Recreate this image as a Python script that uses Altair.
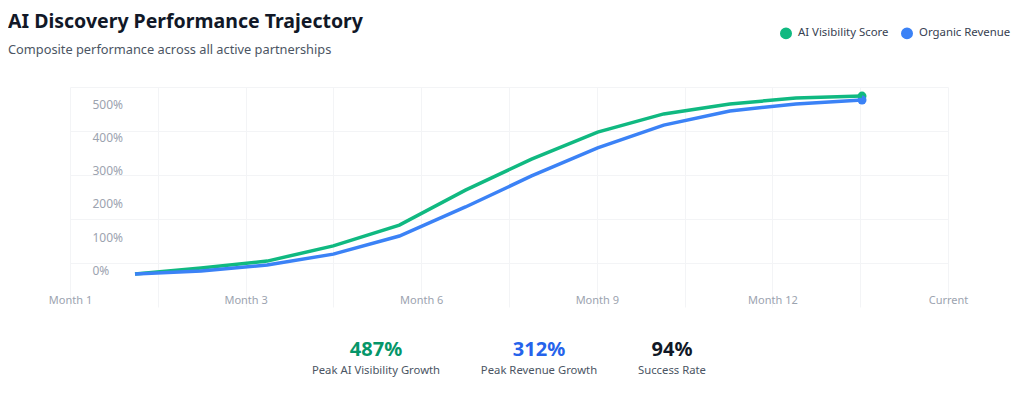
import altair as alt
import pandas as pd

# ---- data ----
months = [1, 2, 3, 4, 5, 6, 7, 8, 9, 10, 11, 12]
ai_visibility = [-12, 6, 27, 73, 136, 242, 336, 418, 473, 503, 521, 527]
organic_revenue = [-12, -3, 15, 48, 103, 191, 285, 370, 439, 482, 503, 515]
series_names = ["AI Visibility Score", "Organic Revenue"]
series_colors = ["#10b981", "#3b82f6"]

grid_x = [0, 1, 2, 3, 4, 5, 6, 7, 8, 9, 10]
grid_x_labels = {0: "Month 1", 2: "Month 3", 4: "Month 6", 6: "Month 9", 8: "Month 12", 10: "Current"}
y_ticks = [0, 100, 200, 300, 400, 500]

stat_values = ["487%", "312%", "94%"]
stat_labels = ["Peak AI Visibility Growth", "Peak Revenue Growth", "Success Rate"]
stat_colors = ["#059669", "#2563eb", "#111827"]

FONT = "Noto Sans"
W, H = 878, 220

df = pd.DataFrame({
    "month": months * 2,
    "value": ai_visibility + organic_revenue,
    "series": [series_names[0]] * len(months) + [series_names[1]] * len(months),
})

label_expr = "{" + ",".join(f"'{k}':'{v}'" for k, v in grid_x_labels.items()) + "}[datum.value] || ''"

grid_df = pd.DataFrame({"gx": grid_x, "gy": [0] * len(grid_x)})
grid_layer = alt.Chart(grid_df).mark_point(opacity=0).encode(
    x=alt.X("gx:Q", scale=alt.Scale(domain=[0, 10], nice=False, zero=False),
            axis=alt.Axis(orient="bottom", values=grid_x, labelExpr=label_expr, grid=True,
                          gridColor="#f3f4f6", gridWidth=1, domain=False, ticks=False,
                          labelColor="#9ca3af", labelFontSize=11, labelFont=FONT,
                          labelPadding=0, offset=-13, title=None, labelFlush=False,
                          labelOverlap=False)),
    y=alt.Y("gy:Q", scale=alt.Scale(domain=[0, 5], nice=False, zero=False),
            axis=alt.Axis(orient="left", values=[1, 2, 3, 4, 5], grid=True, gridColor="#f3f4f6",
                          gridWidth=1, labels=False, ticks=False, domain=False, title=None)),
)

color_scale = alt.Scale(domain=series_names, range=series_colors)
xs = alt.X("month:Q", scale=alt.Scale(domain=[0.0165, 13.301], nice=False, zero=False), axis=None)
ys = alt.Y("value:Q", scale=alt.Scale(domain=[-112.1, 554.5], nice=False, zero=False),
           axis=alt.Axis(orient="left", values=y_ticks, format=".0f", labelExpr="datum.value + '%'",
                         grid=False, ticks=False, domain=False, labelAlign="left",
                         labelPadding=0, offset=-22, labelColor="#9ca3af", labelFontSize=12,
                         labelFont=FONT, title=None))

legend = alt.Legend(title=None, orient="none", legendX=710, legendY=-60, direction="horizontal",
                    symbolType="circle", symbolSize=110, labelFontSize=11.4, labelFont=FONT,
                    labelColor="#374151", labelOffset=6, columnPadding=9, padding=0)

points = alt.Chart(df).transform_filter(alt.datum.month == max(months)).mark_circle(
    size=80, opacity=1).encode(
    x=xs, y=ys, color=alt.Color("series:N", scale=color_scale, legend=legend))
lines = alt.Chart(df).mark_line(strokeWidth=3.5).encode(
    x=xs, y=ys, color=alt.Color("series:N", scale=color_scale, legend=legend))
data_layer = alt.layer(points, lines)

stats_df = pd.DataFrame({"val": stat_values, "lab": stat_labels, "col": stat_colors,
                         "i": [0, 1, 2]})
stat_x = [306, 469, 602]
stat_layers = []
for i in range(3):
    base = alt.Chart(stats_df).transform_filter(alt.datum.i == i)
    stat_layers.append(base.mark_text(fontSize=20, fontWeight="bold", font=FONT, baseline="middle",
                                      align="center").encode(
        x=alt.value(stat_x[i]), y=alt.value(263), text="val:N",
        color=alt.Color("col:N", scale=None)))
    stat_layers.append(base.mark_text(fontSize=11.3, font=FONT, baseline="middle", align="center",
                                      color="#4b5563").encode(
        x=alt.value(stat_x[i]), y=alt.value(284), text="lab:N"))

chart = alt.layer(grid_layer, data_layer, *stat_layers).resolve_scale(
    x="independent", y="independent"
).properties(
    width=W, height=H,
    autosize=alt.AutoSizeParams(type="none"),
    padding={"left": 62, "top": 79, "right": 68, "bottom": 75},
    title=alt.TitleParams(
        text="AI Discovery Performance Trajectory",
        subtitle="Composite performance across all active partnerships",
        anchor="start", frame="group", dx=-62, offset=-31,
        font=FONT, fontSize=19.5, fontWeight="bold", color="#111827",
        subtitleFont=FONT, subtitleFontSize=12.8, subtitleColor="#4b5563", subtitlePadding=12,
    ),
).configure(background="white").configure_view(stroke=None)

chart.save("out.html", embed_options={"renderer": "svg", "actions": False})
